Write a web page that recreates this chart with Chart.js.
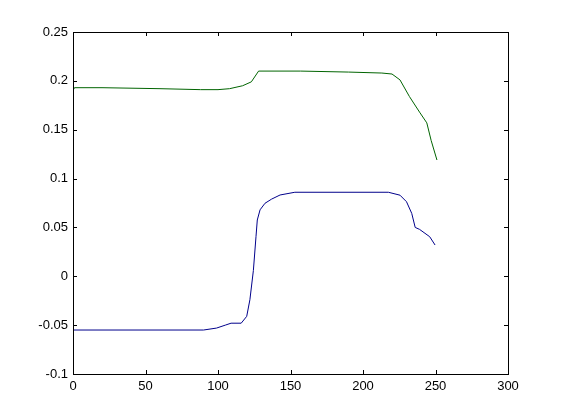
<!DOCTYPE html>
<html>
<head>
<meta charset="utf-8">
<script src="https://cdn.jsdelivr.net/npm/chart.js@4/dist/chart.umd.min.js"></script>
<style>
  html, body { margin: 0; padding: 0; background: #fff; }
  #wrap { width: 561px; height: 420px; }
</style>
</head>
<body>
<div id="wrap"><canvas id="plot" width="561" height="420"></canvas></div>
<script>
// series values
const greenX = [0, 1, 20, 60, 88, 100, 108, 117, 123, 128, 157, 190, 213, 220, 225.5, 232, 239, 244, 247, 251];
const greenY = [0.190, 0.193, 0.193, 0.192, 0.191, 0.191, 0.192, 0.195, 0.199, 0.210, 0.210, 0.209, 0.208, 0.207, 0.201, 0.184, 0.168, 0.157, 0.139, 0.119];

const blueX = [0, 90, 99, 105, 109, 116, 119.8, 122, 124.4, 126.2, 127.1, 129, 132.4, 137, 142.8, 153, 217.5, 225.5, 230, 233.6, 236, 239, 246, 249.7];
const blueY = [-0.055, -0.055, -0.053, -0.050, -0.048, -0.048, -0.041, -0.024, 0.006, 0.0405, 0.0576, 0.068, 0.0747, 0.079, 0.0832, 0.086, 0.086, 0.083, 0.0763, 0.0644, 0.050, 0.048, 0.0405, 0.032];

// axis ticks
const xTicks = [0, 50, 100, 150, 200, 250, 300];
const yTicks = [-0.1, -0.05, 0, 0.05, 0.1, 0.15, 0.2, 0.25];

const toPoints = (xs, ys) => xs.map((x, i) => ({ x: x, y: ys[i] }));

// matlab style box with inward ticks on all four sides
const boxTicks = {
  id: "boxTicks",
  afterDraw(chart) {
    const { ctx, chartArea: a, scales } = chart;
    const len = 4;
    ctx.save();
    ctx.strokeStyle = "#000";
    ctx.lineWidth = 1;
    ctx.beginPath();
    xTicks.forEach(v => {
      const px = Math.round(scales.x.getPixelForValue(v)) + 0.5;
      ctx.moveTo(px, a.bottom); ctx.lineTo(px, a.bottom - len);
      ctx.moveTo(px, a.top); ctx.lineTo(px, a.top + len);
    });
    yTicks.forEach(v => {
      const py = Math.round(scales.y.getPixelForValue(v)) + 0.5;
      ctx.moveTo(a.left, py); ctx.lineTo(a.left + len, py);
      ctx.moveTo(a.right, py); ctx.lineTo(a.right - len, py);
    });
    ctx.stroke();
    ctx.strokeRect(Math.round(a.left) + 0.5, Math.round(a.top) + 0.5,
      Math.round(a.right - a.left), Math.round(a.bottom - a.top));
    ctx.restore();
  }
};

const tickFont = { family: "'Liberation Sans', Arial, sans-serif", size: 13 };

new Chart(document.getElementById("plot"), {
  type: "line",
  data: {
    datasets: [
      {
        data: toPoints(greenX, greenY),
        borderColor: "#006400",
        borderWidth: 1,
        pointRadius: 0,
        tension: 0,
        fill: false
      },
      {
        data: toPoints(blueX, blueY),
        borderColor: "#00008b",
        borderWidth: 1,
        pointRadius: 0,
        tension: 0,
        fill: false
      }
    ]
  },
  options: {
    responsive: false,
    animation: false,
    layout: { padding: { left: 0, top: 32, right: 53, bottom: 0 } },
    plugins: {
      legend: { display: false },
      tooltip: { enabled: false }
    },
    scales: {
      x: {
        type: "linear",
        min: 0,
        max: 300,
        afterBuildTicks: s => { s.ticks = xTicks.map(v => ({ value: v })); },
        afterFit: s => { s.height = 46; },
        grid: { display: false, drawTicks: false },
        border: { display: false },
        ticks: { color: "#000", font: tickFont, padding: 5, maxRotation: 0 }
      },
      y: {
        type: "linear",
        min: -0.1,
        max: 0.25,
        afterBuildTicks: s => { s.ticks = yTicks.map(v => ({ value: v })); },
        afterFit: s => { s.width = 73; },
        grid: { display: false, drawTicks: false },
        border: { display: false },
        ticks: {
          color: "#000",
          font: tickFont,
          padding: 5,
          callback: v => String(parseFloat(Number(v).toFixed(2)))
        }
      }
    }
  },
  plugins: [boxTicks]
});
</script>
</body>
</html>
